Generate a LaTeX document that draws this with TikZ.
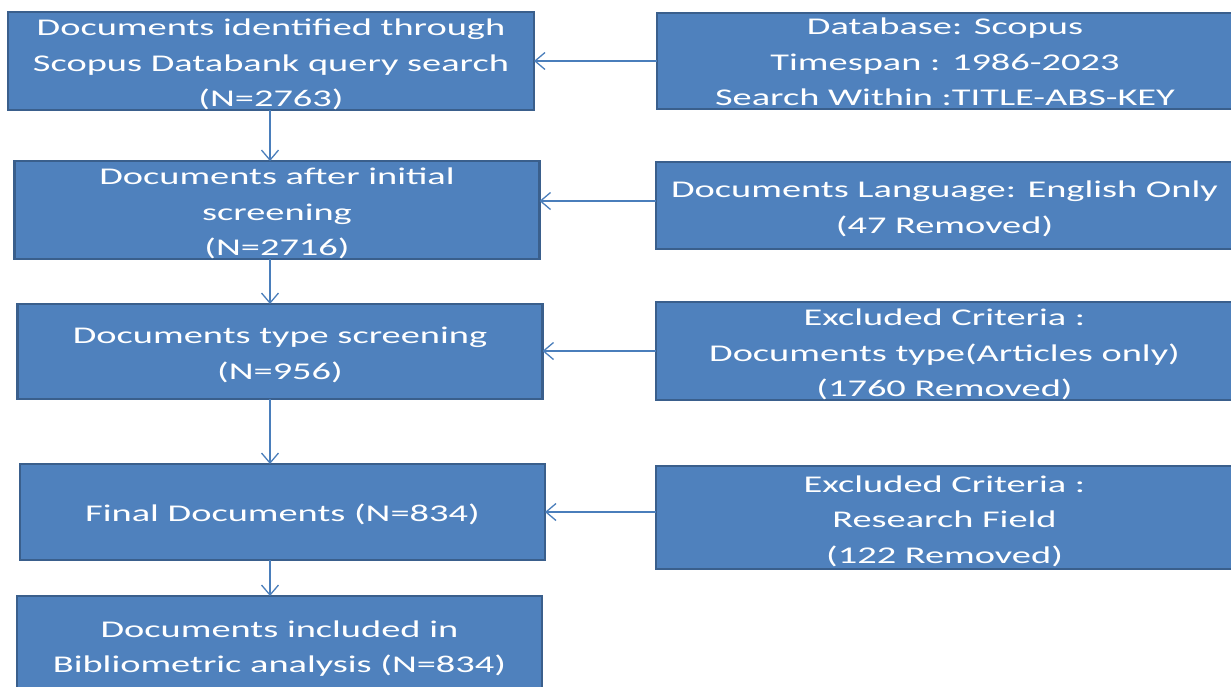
\documentclass[tikz,border=0pt]{standalone}
\usepackage{fontspec}
\setmainfont{Carlito}[FakeStretch=1.6]
\usetikzlibrary{arrows.meta}
\definecolor{boxfill}{HTML}{4F81BD}
\definecolor{boxline}{HTML}{3A5F8C}
\definecolor{arrcol}{HTML}{4A7EBB}
\newcommand{\firstup}{\rule{0pt}{23.5pt}}
\newcommand{\firstupsmall}{\rule{0pt}{19pt}}
\tikzset{
  box/.style={rectangle, fill=boxfill, draw=boxline, line width=2.5pt, inner sep=0pt, outer sep=0pt,
    text=white, align=center, font={\fontsize{24}{35.5}\selectfont}},
  onebox/.style={box, execute at begin node={\rule{0pt}{22pt}}},
  arr/.style={draw=arrcol, line width=1.3pt, -{Straight Barb[length=10pt,width=17pt,line width=1.3pt]}}
}
\begin{document}
\begin{tikzpicture}[x=1pt,y=-1pt]
\useasboundingbox (0,0) rectangle (1231,686);
\clip (0,0) rectangle (1231,686);
\node[box, minimum width=526pt, minimum height=96pt] (b1) at (271,61) {\firstup Documents identified through\\Scopus Databank query search\\(N=2763)};
\node[box, minimum width=525pt, minimum height=96pt] (b2) at (277,210) {\firstup Documents after initial\\screening\\(N=2716)};
\node[box, minimum width=525pt, minimum height=95pt] (b3) at (280,351.5) {\firstup Documents type screening\\(N=956)};
\node[onebox, minimum width=525pt, minimum height=96pt] (b4) at (282.5,512) {Final Documents (N=834)};
\node[box, minimum width=525pt, minimum height=98pt] (b5) at (279.5,645) {\firstup Documents included in\\Bibliometric analysis (N=834)};
\node[box, minimum width=576pt, minimum height=96pt] (r1) at (945,61) {\firstupsmall Database: Scopus\\Timespan : 1986-2023\\Search Within :TITLE-ABS-KEY};
\node[box, minimum width=577pt, minimum height=87pt] (r2) at (944.5,205.5) {\firstup Documents Language: English Only\\(47 Removed)};
\node[box, minimum width=577pt, minimum height=96pt] (r3) at (944.5,351) {\firstup Excluded Criteria :\\Documents type(Articles only)\\(1760 Removed)};
\node[box, minimum width=577pt, minimum height=103pt] (r4) at (944.5,517.5) {\firstup Excluded Criteria :\\Research Field\\(122 Removed)};
\coordinate (ax) at (270,0);
\coordinate (h1) at (0,61);
\coordinate (h2) at (0,201);
\coordinate (h3) at (0,351);
\coordinate (h4) at (0,512);
\draw[arr] (b1.south -| ax) -- (b2.north -| ax);
\draw[arr] (b2.south -| ax) -- (b3.north -| ax);
\draw[arr] (b3.south -| ax) -- (b4.north -| ax);
\draw[arr] (b4.south -| ax) -- (b5.north -| ax);
\draw[arr] (r1.west |- h1) -- (b1.east |- h1);
\draw[arr] (r2.west |- h2) -- (b2.east |- h2);
\draw[arr] (r3.west |- h3) -- (b3.east |- h3);
\draw[arr] (r4.west |- h4) -- (b4.east |- h4);
\end{tikzpicture}
\end{document}
